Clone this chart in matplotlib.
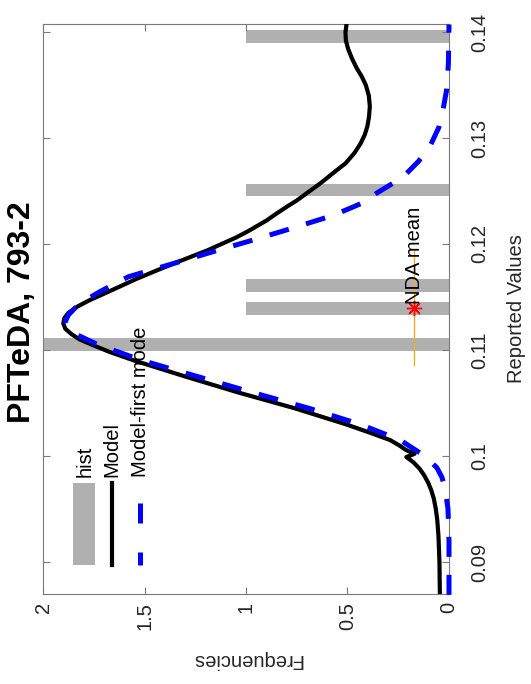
import matplotlib
matplotlib.use('Agg')
import matplotlib.pyplot as plt
from matplotlib.patches import Rectangle
from matplotlib.lines import Line2D

plt.rcParams['font.family'] = ['Liberation Sans', 'DejaVu Sans']

# ---------------- data ----------------
title_text = 'PFTeDA, 793-2'
hist_centers = [0.1105, 0.1139, 0.1161, 0.1251, 0.1396]
hist_counts = [2, 1, 1, 1, 1]
hist_width = 0.0012

model_v = [0.0869, 0.0900, 0.0925, 0.0940, 0.0950, 0.0960, 0.0968, 0.0975, 0.0982,
           0.0988, 0.0994, 0.0999, 0.1002, 0.1006, 0.1010, 0.1015, 0.1022, 0.1030,
           0.1045, 0.1060, 0.1075, 0.1090, 0.1098, 0.1105, 0.1110, 0.1115, 0.1120,
           0.1125, 0.1130, 0.1135, 0.1141, 0.1147, 0.1153, 0.1160, 0.1167, 0.1175,
           0.1182, 0.1188, 0.1194, 0.1200, 0.1206, 0.1212, 0.1217, 0.1222, 0.1228,
           0.1235, 0.1241, 0.1248, 0.1257, 0.1267, 0.1276, 0.1286, 0.1295, 0.1303,
           0.1311, 0.1320, 0.1330, 0.1340, 0.1350, 0.1358, 0.1366, 0.1375, 0.1384,
           0.1392, 0.1400, 0.1407]
model_f = [0.045, 0.047, 0.052, 0.058, 0.065, 0.075, 0.088, 0.103, 0.123,
           0.145, 0.175, 0.210, 0.170, 0.215, 0.245, 0.29, 0.39, 0.51,
           0.76, 1.04, 1.30, 1.55, 1.67, 1.76, 1.82, 1.86, 1.89,
           1.90, 1.895, 1.875, 1.83, 1.77, 1.70, 1.62, 1.54, 1.44,
           1.35, 1.27, 1.19, 1.12, 1.05, 0.99, 0.945, 0.90, 0.855,
           0.80, 0.75, 0.70, 0.635, 0.57, 0.51, 0.465, 0.435, 0.415,
           0.402, 0.394, 0.39, 0.395, 0.41, 0.43, 0.455, 0.478, 0.497,
           0.508, 0.51, 0.505]

first_v = [0.0869, 0.0920, 0.0950, 0.0970, 0.0980, 0.0989, 0.1000, 0.1015, 0.1030,
           0.1045, 0.1060, 0.1075, 0.1090, 0.1105, 0.1115, 0.1120, 0.1127, 0.1133,
           0.1140, 0.1147, 0.1155, 0.1169, 0.1182, 0.1194, 0.1204, 0.1215, 0.1227,
           0.1240, 0.1248, 0.1263, 0.1278, 0.1292, 0.1310, 0.1326, 0.1345, 0.1370,
           0.1407]
first_f = [0.0, 0.0, 0.005, 0.02, 0.035, 0.06, 0.12, 0.24, 0.44,
           0.69, 0.97, 1.24, 1.51, 1.73, 1.84, 1.875, 1.89, 1.875,
           1.84, 1.79, 1.72, 1.58, 1.35, 1.14, 0.96, 0.77, 0.57,
           0.41, 0.356, 0.227, 0.15, 0.094, 0.05, 0.03, 0.012, 0.003,
           0.0]

nda_mean = 0.11394
nda_freq = 0.17
nda_lo = 0.1086
nda_hi = 0.1194

freq_ticks = [0, 0.5, 1, 1.5, 2]
freq_labels = ['0', '0.5', '1', '1.5', '2']
val_ticks = [0.09, 0.10, 0.11, 0.12, 0.13, 0.14]
val_labels = ['0.09', '0.1', '0.11', '0.12', '0.13', '0.14']
legend_labels = ['hist', 'Model', 'Model-first mode']

# ---------------- figure ----------------
W, H = 531, 684
fig = plt.figure(figsize=(W / 100, H / 100), dpi=100)
ax = fig.add_axes([43 / W, 90 / H, 406 / W, 570 / H])

gray = '#b0b0b0'
ax.barh(hist_centers, hist_counts, height=hist_width, color=gray, edgecolor='none', zorder=1)
ax.plot(model_f, model_v, color='black', lw=3.0, solid_joinstyle='round', zorder=3)
ax.plot(first_f, first_v, color='#0000ff', lw=3.6, dashes=(4, 3.6), zorder=4, clip_on=False)

ax.plot([nda_freq, nda_freq], [nda_lo, nda_hi], color='#EDB120', lw=1.0, zorder=2)
ax.plot([nda_freq], [nda_mean], marker=(8, 2, 0), color='red', ms=11, mew=1.0, zorder=5)
ax.text(nda_freq, nda_mean + 0.0004, 'NDA mean', rotation=90, ha='center', va='bottom',
        fontsize=14.5, color='black', zorder=6)

ax.set_xlim(2, 0)
ax.set_ylim(0.08698, 0.14075)
ax.set_xticks(freq_ticks)
ax.set_xticklabels(freq_labels)
ax.set_yticks(val_ticks)
ax.set_yticklabels(val_labels)

frame_col = '#7a7a7a'
for s in ax.spines.values():
    s.set_color(frame_col)
    s.set_linewidth(0.8)
ax.tick_params(axis='both', direction='in', length=5, width=0.8, color=frame_col,
               labelcolor='#262626', labelsize=14.5)
ax.tick_params(axis='x', bottom=True, top=True, labelbottom=True, labeltop=False,
               labelrotation=90, pad=6)
ax.tick_params(axis='y', left=True, right=True, labelleft=False, labelright=True,
               labelrotation=90, pad=15)
for lab in ax.get_yticklabels():
    lab.set_ha('left')
    lab.set_va('center')

# axis labels and title (rotated figure layout)
fig.text(247 / W, 1 - 660 / H, 'Frequencies', rotation=180, ha='center', va='center',
         fontsize=14.5, color='#262626')
fig.text(517 / W, 1 - 309 / H, 'Reported Values', rotation=90, ha='center', va='center',
         fontsize=14.5, color='#262626')
fig.text(22 / W, 1 - 312 / H, title_text, rotation=90, ha='center', va='center',
         fontsize=23, fontweight='bold', color='black')

# manual legend (rotated)
def axx(px):
    return (px - 43) / 406

def axy(py):
    return (594 - py) / 570

ax.add_patch(Rectangle((axx(73), axy(565)), axx(95) - axx(73), axy(483) - axy(565),
                       transform=ax.transAxes, facecolor=gray, edgecolor='none', zorder=5))
ax.add_line(Line2D([axx(112), axx(112)], [axy(565), axy(483)], transform=ax.transAxes,
                   color='black', lw=3.0, zorder=5))
ax.add_line(Line2D([axx(140), axx(140)], [axy(503), axy(565)], transform=ax.transAxes,
                   color='#0000ff', lw=3.6, dashes=(4, 5.8), zorder=5))
for px, txt in zip([85, 112, 140], legend_labels):
    ax.text(axx(px), axy(477), txt, rotation=90, ha='center', va='bottom',
            transform=ax.transAxes, fontsize=14.5, color='black', zorder=6)

fig.savefig('out.png', dpi=100)
